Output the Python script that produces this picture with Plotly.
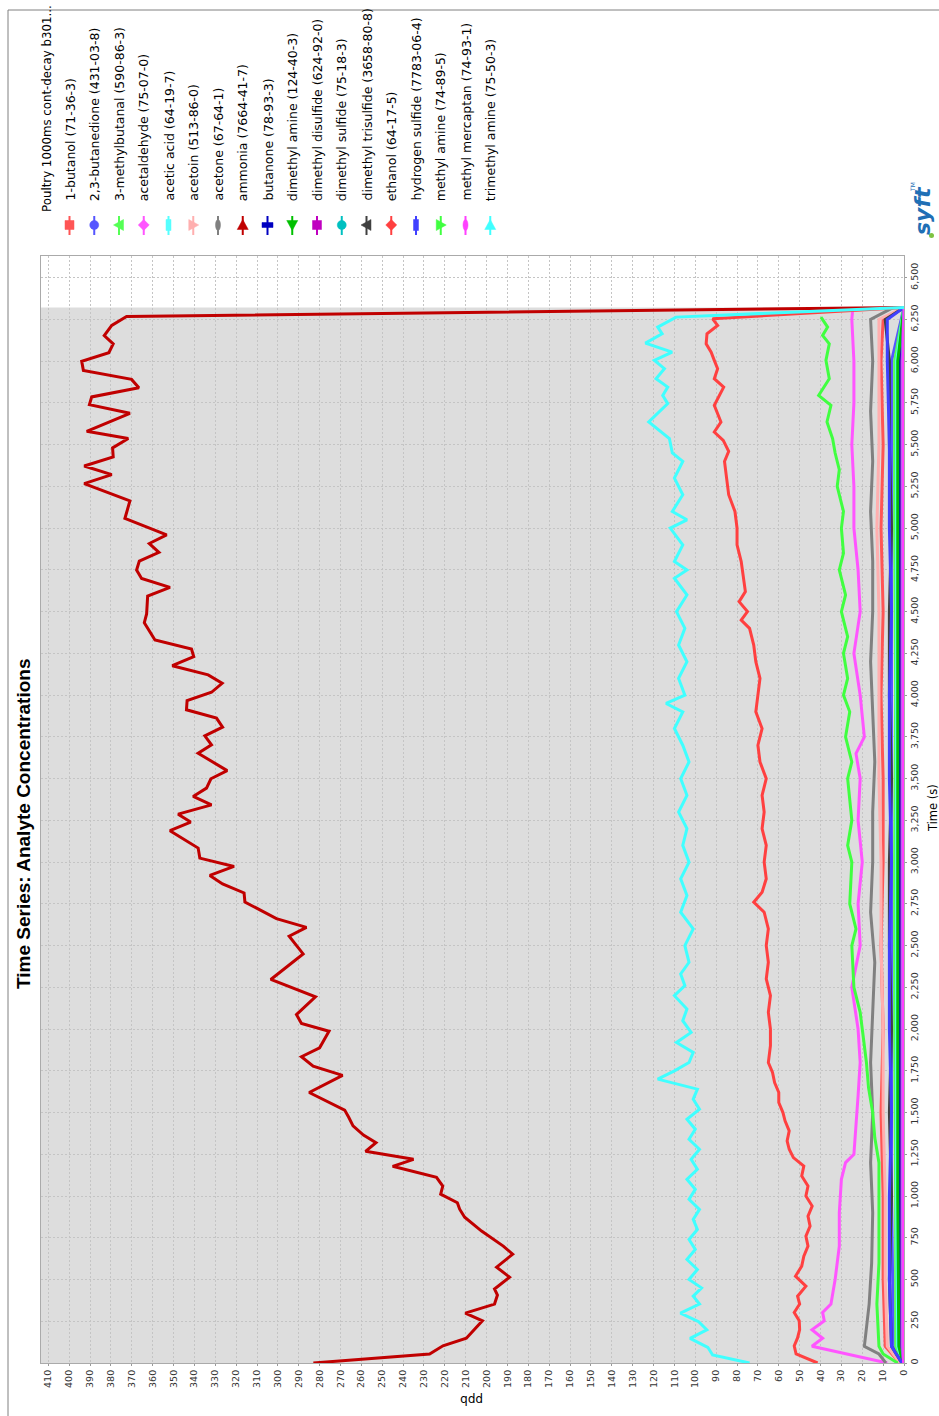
import plotly.graph_objects as go

# ---------------------------------------------------------------------------
# Series data: sample times (s) and concentrations (ppb) for each analyte
# ---------------------------------------------------------------------------
analyte_names = [
    "1-butanol (71-36-3)", "2,3-butanedione (431-03-8)", "3-methylbutanal (590-86-3)",
    "acetaldehyde (75-07-0)", "acetic acid (64-19-7)", "acetoin (513-86-0)",
    "acetone (67-64-1)", "ammonia (7664-41-7)", "butanone (78-93-3)",
    "dimethyl amine (124-40-3)", "dimethyl disulfide (624-92-0)", "dimethyl sulfide (75-18-3)",
    "dimethyl trisulfide (3658-80-8)", "ethanol (64-17-5)", "hydrogen sulfide (7783-06-4)",
    "methyl amine (74-89-5)", "methyl mercaptan (74-93-1)", "trimethyl amine (75-50-3)",
]
analyte_colors = [
    "#FF5555", "#5555FF", "#55FF55", "#FF55FF", "#55FFFF", "#FFAFAF",
    "#808080", "#C00000", "#0000C0", "#00C000", "#C000C0", "#00C0C0",
    "#404040", "#FF4040", "#4040FF", "#40FF40", "#FF40FF", "#40FFFF",
]
legend_header = "Poultry 1000ms cont-decay b301..."

ammonia_t = [0, 54, 103, 148, 253, 299, 353, 407, 443, 514, 574, 652, 700, 790, 873, 921,
             960, 1011, 1060, 1112, 1178, 1220, 1268, 1320, 1365, 1420, 1470, 1515, 1620,
             1723, 1778, 1834, 1888, 1987, 2033, 2087, 2193, 2297, 2450, 2556, 2609, 2661,
             2761, 2815, 2869, 2920, 2974, 3024, 3084, 3128, 3188, 3240, 3287, 3343, 3393,
             3443, 3499, 3548, 3652, 3702, 3756, 3808, 3862, 3912, 3967, 4017, 4071, 4121,
             4176, 4230, 4276, 4330, 4434, 4486, 4593, 4645, 4699, 4749, 4803, 4855, 4908,
             4960, 5058, 5163, 5267, 5321, 5372, 5426, 5481, 5537, 5580, 5688, 5740, 5786,
             5841, 5891, 5945, 5999, 6051, 6104, 6154, 6214, 6268, 6322]
ammonia_ppb = [283, 227.3, 220.9, 209.7, 202, 210.2, 196.2, 194.8, 196.2, 189, 195.2, 187.5,
               192, 202.4, 210.5, 212.9, 214, 222, 221, 224, 245, 235, 258, 253, 259, 264,
               266, 268, 285, 269, 283.1, 288.7, 280, 275.5, 288.7, 291.1, 282, 303.4, 287.9,
               294.6, 286.3, 300.7, 315.8, 316.2, 326.5, 332.6, 321, 337.4, 338.2, 343.8,
               351.7, 341.8, 347.8, 331.8, 340.6, 334.2, 332.1, 324.3, 338.2, 331.8, 335,
               326.5, 329.4, 343.8, 343.5, 331.8, 326.7, 333.4, 350.6, 340.3, 341.4, 358.9,
               364, 362.9, 362.4, 351.7, 365.3, 367.7, 366.4, 357, 361.6, 353.3, 373.3, 370.9,
               392.8, 379.6, 392.8, 378.9, 379.2, 371.7, 391.6, 370.9, 390.3, 389.2, 366.6,
               370.1, 393.2, 394, 381, 378.9, 383.2, 379.6, 372.5, 0]

tma_t = [0, 48, 94, 148, 199, 247, 299, 353, 400, 450, 500, 560, 620, 680, 740, 800, 860,
         920, 980, 1040, 1100, 1160, 1220, 1280, 1340, 1400, 1460, 1520, 1580, 1640, 1700,
         1750, 1800, 1860, 1920, 1980, 2050, 2120, 2200, 2260, 2330, 2400, 2500, 2600, 2700,
         2800, 2900, 3000, 3100, 3200, 3300, 3400, 3500, 3600, 3700, 3800, 3900, 3950, 4000,
         4100, 4200, 4300, 4400, 4500, 4600, 4700, 4750, 4800, 4900, 5000, 5050, 5100, 5200,
         5300, 5400, 5450, 5536, 5636, 5746, 5795, 5845, 5895, 5955, 6005, 6054, 6108, 6164,
         6204, 6264, 6322]
tma_ppb = [74, 91.7, 94, 102.5, 94.5, 98.4, 107.1, 98, 101, 97, 103, 99, 104, 100, 103, 99,
           101, 98, 103, 100, 104, 99, 102, 98, 103, 100, 104, 98, 101, 99, 118, 110, 103,
           101, 109, 102, 106, 104, 110, 105, 107, 103, 105, 101, 107, 104, 107, 103, 106,
           104, 108, 104, 107, 103, 106, 110, 106, 114, 105, 108, 104, 108, 105, 109, 104,
           110, 104, 110, 106, 112, 104, 111, 106, 110, 106, 111, 112.4, 122.3, 113.2,
           115.6, 113.2, 118.8, 114.8, 119.6, 111.1, 123.9, 115.9, 118, 109.2, 0]

ethanol_t = [0, 54, 103, 150, 200, 253, 303, 353, 400, 460, 520, 580, 640, 700, 760, 820,
             880, 940, 1000, 1060, 1120, 1180, 1230, 1280, 1330, 1390, 1450, 1500, 1560, 1620,
             1680, 1740, 1800, 1900, 2000, 2100, 2200, 2300, 2400, 2500, 2600, 2700, 2760,
             2820, 2900, 3000, 3100, 3200, 3300, 3400, 3500, 3600, 3700, 3800, 3900, 4000,
             4100, 4200, 4300, 4400, 4450, 4500, 4560, 4620, 4700, 4800, 4900, 5000, 5100,
             5200, 5300, 5400, 5460, 5526, 5576, 5636, 5736, 5845, 5895, 5955, 6005, 6054,
             6104, 6164, 6214, 6254, 6322]
ethanol_ppb = [41.4, 51.7, 52.6, 51, 50, 50.2, 52.6, 50, 51, 47, 52, 49, 48, 46, 47, 45, 46,
               44, 47, 46, 49, 48, 53, 55, 56, 55, 57, 58, 60, 60, 62, 63, 65, 64, 64, 65, 64,
               66, 65, 66, 65, 67, 72, 68, 66, 67, 66, 68, 67, 68, 66, 69, 70, 68, 71, 70, 69,
               71, 72, 74, 78, 75, 79, 76, 77, 78, 80, 80, 81, 84, 85, 86, 84, 86.6, 90.9,
               87.7, 90.9, 86.4, 90.9, 89.3, 90.9, 92.4, 94.8, 94.4, 89.3, 91.7, 0]

methylamine_t = [0, 54, 100, 200, 353, 600, 900, 1200, 1350, 1500, 1650, 1800, 2000, 2100,
                 2250, 2500, 2600, 2750, 3000, 3100, 3250, 3500, 3600, 3750, 3900, 4000, 4100,
                 4250, 4350, 4500, 4600, 4750, 4850, 5000, 5100, 5250, 5350, 5450, 5536,
                 5636, 5736, 5795, 5895, 6005, 6104, 6154, 6204, 6264]
methylamine_ppb = [3, 10, 12, 12.5, 13, 12, 12, 12, 14, 15, 17, 18, 20, 21, 24, 25, 23, 26,
                   25, 27, 25, 27, 25, 28, 26, 29, 27, 29, 27, 30, 28, 31, 29, 30, 29, 32, 31,
                   33, 34.2, 36.9, 35, 40.9, 35.8, 37.4, 35.8, 39, 36.6, 39.8]

acetaldehyde_t = [0, 100, 148, 199, 253, 303, 353, 500, 700, 900, 1100, 1200, 1250, 1400,
                  1600, 1800, 2000, 2250, 2500, 2750, 3000, 3250, 3500, 3650, 3750, 4000,
                  4250, 4500, 4750, 5000, 5250, 5500, 5750, 6000, 6250, 6322]
acetaldehyde_ppb = [8, 44.1, 39, 44.1, 38.2, 39, 35, 33, 31, 31, 30, 28, 24, 23, 22, 21, 22,
                    25, 21, 22, 20, 22, 21, 23, 19, 21, 24, 21, 22, 24, 24, 25, 24, 24, 25,
                    24.5]

acetone_t = [0, 54, 100, 199, 353, 600, 900, 1200, 1500, 1800, 2100, 2400, 2700, 3000, 3300,
             3600, 3900, 4200, 4500, 4800, 5100, 5400, 5700, 6000, 6250, 6322]
acetone_ppb = [8.7, 12, 19, 18.2, 16.7, 15.5, 15, 16, 15, 16, 15, 14, 16, 15, 15, 14, 15, 16,
               15, 15, 16, 15, 16, 15, 16, 5]

butanol_t = [0, 100, 500, 1000, 1500, 2000, 2500, 3000, 3500, 4000, 4500, 5000, 5500, 6000,
             6250, 6322]
butanol_ppb = [2, 9, 10, 10, 11, 10, 11, 10, 10, 11, 10, 11, 10, 11, 10, 0]

acetoin_t = [0, 100, 500, 1000, 1500, 2000, 2500, 3000, 3500, 4000, 4500, 5000, 5500, 6000,
             6250, 6322]
acetoin_ppb = [2, 8, 9, 9, 10, 10, 11, 11, 12, 12, 12, 13, 12, 12, 12, 0]

trisulfide_t = [0, 100, 500, 1000, 1500, 2000, 2500, 3000, 3500, 4000, 4500, 5000, 5500,
                6000, 6250, 6322]
trisulfide_ppb = [1, 6, 7, 6, 7, 6, 7, 7, 6, 7, 7, 6, 7, 7, 9, 0]

h2s_t = [0, 100, 500, 1000, 1500, 2000, 2500, 3000, 3500, 4000, 4500, 5000, 5500, 6000, 6250,
         6322]
h2s_ppb = [1, 6, 7, 7, 6, 7, 7, 6, 7, 7, 6, 7, 7, 8, 8, 0]

butanedione_t = [0, 100, 1000, 2000, 3000, 4000, 5000, 6000, 6322]
butanedione_ppb = [1, 5, 6, 6, 6, 6, 6, 6, 0]

methylbutanal_t = [0, 100, 1000, 2000, 3000, 4000, 5000, 6000, 6322]
methylbutanal_ppb = [1, 4, 4, 4.5, 4.5, 4, 4.5, 4.5, 0]

acetic_t = [0, 100, 1000, 2000, 3000, 4000, 5000, 6000, 6322]
acetic_ppb = [0.5, 3, 3.5, 3.5, 3.5, 3.5, 3.5, 3.5, 0]

dimethylamine_t = [0, 100, 1000, 2000, 3000, 4000, 5000, 6000, 6322]
dimethylamine_ppb = [0.5, 2.5, 3, 3, 3, 3, 3, 3, 0]

butanone_t = [0, 100, 1000, 2000, 3000, 4000, 5000, 6000, 6322]
butanone_ppb = [0.3, 1.8, 2, 2, 2, 2, 2, 2, 0]

disulfide_t = [0, 100, 1000, 2000, 3000, 4000, 5000, 6000, 6322]
disulfide_ppb = [0.2, 1, 1, 1, 1, 1, 1, 1, 0]

dms_t = [0, 100, 1000, 2000, 3000, 4000, 5000, 6000, 6322]
dms_ppb = [0.2, 0.8, 0.8, 0.8, 0.8, 0.8, 0.8, 0.8, 0]

mercaptan_t = [0, 100, 1000, 2000, 3000, 4000, 5000, 6000, 6322]
mercaptan_ppb = [0.2, 0.6, 0.6, 0.6, 0.6, 0.6, 0.6, 0.6, 0]

series_data = [
    (butanol_t, butanol_ppb), (butanedione_t, butanedione_ppb),
    (methylbutanal_t, methylbutanal_ppb), (acetaldehyde_t, acetaldehyde_ppb),
    (acetic_t, acetic_ppb), (acetoin_t, acetoin_ppb), (acetone_t, acetone_ppb),
    (ammonia_t, ammonia_ppb), (butanone_t, butanone_ppb),
    (dimethylamine_t, dimethylamine_ppb), (disulfide_t, disulfide_ppb), (dms_t, dms_ppb),
    (trisulfide_t, trisulfide_ppb), (ethanol_t, ethanol_ppb), (h2s_t, h2s_ppb),
    (methylamine_t, methylamine_ppb), (mercaptan_t, mercaptan_ppb), (tma_t, tma_ppb),
]

ppb_ticks = list(range(0, 411, 10))
time_ticks = list(range(0, 6501, 250))

# ---------------------------------------------------------------------------
# Page geometry (pixels) -- the chart is laid out turned on its side:
# time runs up the page, concentration runs right-to-left.
# ---------------------------------------------------------------------------
W, H = 939, 1416
PL, PR, PT, PB = 41, 904, 256, 1363
PPB_MAX = 413.5
TIME_MAX = 6630


def px(x):
    return (x - PL) / (PR - PL)


def py(y):
    return (PB - y) / (PB - PT)


fig = go.Figure()

for (t, v), name, col in zip(series_data, analyte_names, analyte_colors):
    fig.add_trace(go.Scatter(x=v, y=t, mode="lines", name=name,
                             line=dict(color=col, width=3), showlegend=False))

shapes = []
annotations = []

# shaded data window behind the traces
t_end = max(max(t) for t, _ in series_data)
shapes.append(dict(type="rect", xref="x", yref="y", x0=PPB_MAX, x1=0, y0=0, y1=t_end,
                   fillcolor="#DDDDDD", line=dict(width=0), layer="below"))

# outer frame lines
shapes.append(dict(type="line", xref="paper", yref="paper", x0=px(8), x1=px(8),
                   y0=py(10), y1=py(H + 5), line=dict(color="#808080", width=1)))
shapes.append(dict(type="line", xref="paper", yref="paper", x0=px(8), x1=px(W + 5),
                   y0=py(10), y1=py(10), line=dict(color="#808080", width=1)))

# ---------------------------------------------------------------------------
# Legend, drawn as rotated text with marker glyphs
# ---------------------------------------------------------------------------
LEG_X0, LEG_DX = 69.5, 24.75
LEG_MY = 225
LEG_TEXT_BOTTOM = 203
marker_kinds = ["square", "circle", "tri_left", "diamond", "rect_tall", "tri_right",
                "ellipse_tall", "tri_up", "rect_wide", "tri_down"]


def poly(points):
    return "M " + " L ".join(f"{px(a):.5f},{py(b):.5f}" for a, b in points) + " Z"


def marker_shape(kind, cx, cy, col):
    base = dict(xref="paper", yref="paper", fillcolor=col, line=dict(color=col, width=0.5))
    r = 4.5
    if kind == "square":
        return dict(type="rect", x0=px(cx - r), x1=px(cx + r), y0=py(cy - r), y1=py(cy + r), **base)
    if kind == "circle":
        return dict(type="circle", x0=px(cx - r), x1=px(cx + r), y0=py(cy - r), y1=py(cy + r), **base)
    if kind == "ellipse_tall":
        return dict(type="circle", x0=px(cx - 2.5), x1=px(cx + 2.5), y0=py(cy - 5.5), y1=py(cy + 5.5), **base)
    if kind == "rect_tall":
        return dict(type="rect", x0=px(cx - 2.5), x1=px(cx + 2.5), y0=py(cy - 5.5), y1=py(cy + 5.5), **base)
    if kind == "rect_wide":
        return dict(type="rect", x0=px(cx - 5.5), x1=px(cx + 5.5), y0=py(cy - 2.5), y1=py(cy + 2.5), **base)
    if kind == "diamond":
        pts = [(cx, cy - 5.5), (cx + 5.5, cy), (cx, cy + 5.5), (cx - 5.5, cy)]
    elif kind == "tri_left":
        pts = [(cx - 5.5, cy), (cx + 4.5, cy - 5.5), (cx + 4.5, cy + 5.5)]
    elif kind == "tri_right":
        pts = [(cx + 5.5, cy), (cx - 4.5, cy - 5.5), (cx - 4.5, cy + 5.5)]
    elif kind == "tri_up":
        pts = [(cx, cy - 5.5), (cx - 5.5, cy + 4.5), (cx + 5.5, cy + 4.5)]
    else:
        pts = [(cx, cy + 5.5), (cx - 5.5, cy - 4.5), (cx + 5.5, cy - 4.5)]
    return dict(type="path", path=poly(pts), **base)


LEG_FONT = dict(family="DejaVu Sans", size=12.5, color="#000000")
annotations.append(dict(xref="paper", yref="paper", x=px(46.5), y=py(214), text=legend_header,
                        textangle=-90, showarrow=False, xanchor="center", yanchor="bottom",
                        font=dict(family="DejaVu Sans", size=11.8, color="#000000")))
for i, (name, col) in enumerate(zip(analyte_names, analyte_colors)):
    cx = LEG_X0 + i * LEG_DX
    shapes.append(dict(type="line", xref="paper", yref="paper", x0=px(cx), x1=px(cx),
                       y0=py(LEG_MY - 9), y1=py(LEG_MY + 10), line=dict(color=col, width=2)))
    shapes.append(marker_shape(marker_kinds[i % len(marker_kinds)], cx, LEG_MY, col))
    annotations.append(dict(xref="paper", yref="paper", x=px(cx), y=py(LEG_TEXT_BOTTOM),
                            text=name, textangle=-90, showarrow=False, xanchor="center",
                            yanchor="bottom", font=LEG_FONT))

# title and axis captions
annotations.append(dict(xref="paper", yref="paper", x=px(23), y=py(824),
                        text="<b>Time Series: Analyte Concentrations</b>", textangle=-90,
                        showarrow=False, xanchor="center", yanchor="middle",
                        font=dict(family="Liberation Sans", size=19, color="#000000")))
annotations.append(dict(xref="paper", yref="paper", x=px(933), y=py(808), text="Time (s)",
                        textangle=-90, showarrow=False, xanchor="center", yanchor="middle",
                        font=dict(family="DejaVu Sans", size=11.5, color="#000000")))
annotations.append(dict(xref="paper", yref="paper", x=px(472), y=py(1400), text="ppb",
                        textangle=180, showarrow=False, xanchor="center", yanchor="middle",
                        font=dict(family="DejaVu Sans", size=12, color="#000000")))
# vendor mark
annotations.append(dict(xref="paper", yref="paper", x=px(922), y=py(210),
                        text="<b><i>syft</i></b>", textangle=-90, showarrow=False,
                        xanchor="center", yanchor="middle",
                        font=dict(family="DejaVu Sans", size=22, color="#1F6FB5")))
annotations.append(dict(xref="paper", yref="paper", x=px(912), y=py(187), text="TM",
                        textangle=-90, showarrow=False, xanchor="center", yanchor="middle",
                        font=dict(family="DejaVu Sans", size=6, color="#1F6FB5")))
shapes.append(dict(type="circle", xref="paper", yref="paper", x0=px(929), x1=px(934),
                   y0=py(233), y1=py(238), fillcolor="#7DC242", line=dict(width=0)))

TICK_FONT = dict(family="DejaVu Sans", size=9.5, color="#333333")
fig.update_layout(
    width=W, height=H,
    margin=dict(l=PL, r=W - PR, t=PT, b=H - PB, pad=0),
    paper_bgcolor="white", plot_bgcolor="white",
    showlegend=False,
    shapes=shapes, annotations=annotations,
    xaxis=dict(range=[PPB_MAX, 0], tickmode="array", tickvals=ppb_ticks,
               ticktext=[str(v) for v in ppb_ticks], tickangle=-90, tickfont=TICK_FONT,
               ticks="outside", ticklen=2, tickcolor="#999999",
               showgrid=True, gridcolor="#C4C4C4", griddash="2px,2px", gridwidth=1,
               showline=True, linecolor="#AAAAAA", mirror=True, zeroline=False),
    yaxis=dict(range=[0, TIME_MAX], side="right", tickmode="array", tickvals=time_ticks,
               ticktext=[f"{v:,}" for v in time_ticks], tickangle=-90, tickfont=TICK_FONT,
               ticks="outside", ticklen=2, tickcolor="#999999",
               showgrid=True, gridcolor="#C4C4C4", griddash="2px,2px", gridwidth=1,
               showline=True, linecolor="#AAAAAA", mirror=True, zeroline=False),
)

fig.write_html("out.html")
